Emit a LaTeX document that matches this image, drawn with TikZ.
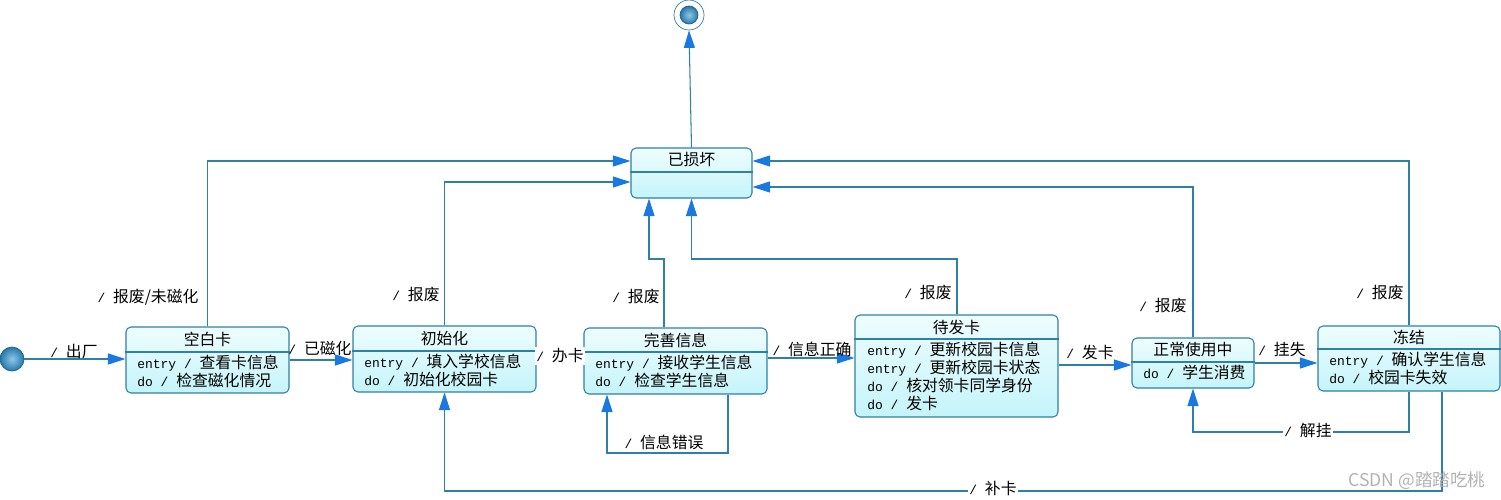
\documentclass[tikz,border=0pt]{standalone}
\usepackage{fontspec}
\setmainfont{Noto Sans CJK SC}
\newfontfamily\monof{Liberation Mono}[Scale=0.82]
\usetikzlibrary{arrows.meta,fit}
\definecolor{linecol}{RGB}{46,128,168}
\definecolor{arrowcol}{RGB}{26,120,225}
\definecolor{topcol}{RGB}{238,253,255}
\definecolor{botcol}{RGB}{196,244,250}
\definecolor{ballin}{RGB}{140,200,230}
\definecolor{ballout}{RGB}{40,120,170}
\tikzset{
 stbox/.style={draw=linecol, line width=0.6pt, rounded corners=1mm, top color=topcol, bottom color=botcol, inner sep=0pt},
 sttitle/.style={inner sep=0pt, font=\fontsize{9pt}{10.2pt}\selectfont},
 stbody/.style={inner sep=0pt, anchor=north west, align=left, font=\fontsize{9pt}{10.2pt}\selectfont},
 conn/.style={draw=linecol, line width=0.6pt, -{Triangle[length=3.5mm,width=2.2mm,color=arrowcol]}},
 lbl/.style={inner sep=1pt, font=\fontsize{9pt}{10pt}\selectfont},
 lblw/.style={lbl, fill=white},
 hdr/.style={draw=linecol, line width=0.6pt},
 ballst/.style={circle, inner sep=0pt, inner color=ballin, outer color=ballout, draw=ballout!80!black, line width=0.4pt},
}
\newcommand\myslash{{\monof / }}
\begin{document}
\begin{tikzpicture}[x=0.2mm,y=-0.2mm]
\useasboundingbox (0,0) rectangle (1501,500);

% initial and final
\node[ballst, minimum size=4.8mm] (init) at (12,359) {};
\node[circle, minimum size=6mm, inner sep=0pt, draw=linecol, line width=0.4pt] (fin) at (689,15) {};
\node[ballst, minimum size=3.6mm] (finin) at (689,15) {};

% 空白卡
\node[stbox, fit={(126,327) (289,393)}] (kbk) {};
\draw[hdr] (kbk.west |- 0,352) -- (kbk.east |- 0,352);
\node[sttitle] (kbkt) at (207.5,339.5) {空白卡};
\node[stbody] (kbkb) at (137,355) {{\monof entry / }查看卡信息\\{\monof do / }检查磁化情况};

% 初始化
\node[stbox, fit={(353,326) (536,392)}] (csh) {};
\draw[hdr] (csh.west |- 0,351) -- (csh.east |- 0,351);
\node[sttitle] (csht) at (444.5,338.5) {初始化};
\node[stbody] (cshb) at (364,354) {{\monof entry / }填入学校信息\\{\monof do / }初始化校园卡};

% 完善信息
\node[stbox, fit={(584,328) (767,394)}] (wsxx) {};
\draw[hdr] (wsxx.west |- 0,352) -- (wsxx.east |- 0,352);
\node[sttitle] (wsxxt) at (675.5,340) {完善信息};
\node[stbody] (wsxxb) at (595,355) {{\monof entry / }接收学生信息\\{\monof do / }检查学生信息};

% 待发卡
\node[stbox, fit={(855,315) (1058,417)}] (dfk) {};
\draw[hdr] (dfk.west |- 0,339) -- (dfk.east |- 0,339);
\node[sttitle] (dfkt) at (956.5,327) {待发卡};
\node[stbody] (dfkb) at (867,342) {{\monof entry / }更新校园卡信息\\{\monof entry / }更新校园卡状态\\{\monof do / }核对领卡同学身份\\{\monof do / }发卡};

% 正常使用中
\node[stbox, fit={(1132,338) (1254,388)}] (zcsy) {};
\draw[hdr] (zcsy.west |- 0,362) -- (zcsy.east |- 0,362);
\node[sttitle] (zcsyt) at (1193,350) {正常使用中};
\node[stbody] (zcsyb) at (1143,365) {{\monof do / }学生消费};

% 冻结
\node[stbox, fit={(1318,326) (1500,391)}] (dj) {};
\draw[hdr] (dj.west |- 0,349) -- (dj.east |- 0,349);
\node[sttitle] (djt) at (1409,337.5) {冻结};
\node[stbody] (djb) at (1329,352) {{\monof entry / }确认学生信息\\{\monof do / }校园卡失效};

% 已损坏
\node[stbox, fit={(631,148) (752,198)}] (ysh) {};
\draw[hdr] (ysh.west |- 0,172) -- (ysh.east |- 0,172);
\node[sttitle] (ysht) at (691.5,160) {已损坏};

% horizontal transitions
\draw[conn] (init.east) -- (init.east -| kbk.west);
\draw[conn] (kbk.east |- 0,360) -- (csh.west |- 0,360);
\draw[conn] (csh.east |- 0,357) -- (wsxx.west |- 0,357);
\draw[conn] (wsxx.east |- 0,358) -- (dfk.west |- 0,358);
\draw[conn] (dfk.east |- 0,365) -- (zcsy.west |- 0,365);
\draw[conn] (zcsy.east |- 0,363) -- (dj.west |- 0,363);

% loops
\draw[conn] (wsxx.south -| 728,0) -- (728,453) -| (wsxx.south -| 607,0);
\draw[conn] (dj.south) -- (dj.south |- 0,432) -| (zcsy.south);
\draw[conn] (dj.south -| 1442,0) -- (1442,491) -| (csh.south);

% to 已损坏
\draw[conn] (kbk.north) |- (ysh.west |- 0,161);
\draw[conn] (csh.north) |- (ysh.west |- 0,182);
\draw[conn] (wsxx.north -| 664,0) -- (664,259) -| (ysh.south -| 649,0);
\draw[conn] (dfk.north -| 957,0) -- (957,259) -| (ysh.south);
\draw[conn] (zcsy.north) |- (ysh.east |- 0,187);
\draw[conn] (dj.north) |- (ysh.east |- 0,161);
\draw[conn] (ysh.north) -- (fin.south);

% labels
\node[lbl] (l1) at (74,351) {\myslash 出厂};
\node[lbl] (l2) at (320,348) {\myslash 已磁化};
\node[lblw] (l3) at (560,356) {\myslash 办卡};
\node[lbl] (l4) at (812,349) {\myslash 信息正确};
\node[lbl] (l5) at (664,442) {\myslash 信息错误};
\node[lbl] (l6) at (1090,352) {\myslash 发卡};
\node[lbl] (l7) at (1282,349) {\myslash 挂失};
\node[lblw] (l8) at (1308,431) {\myslash 解挂};
\node[lblw] (l9) at (993,488) {\myslash 补卡};
\node[lbl] (l10) at (148,297) {\myslash 报废/未磁化};
\node[lbl] (l11) at (416,295) {\myslash 报废};
\node[lbl] (l12) at (636,297) {\myslash 报废};
\node[lbl] (l13) at (928,293) {\myslash 报废};
\node[lbl] (l14) at (1163,306) {\myslash 报废};
\node[lbl] (l15) at (1380,293) {\myslash 报废};

% watermark
\node[inner sep=0pt, text=black!30, font=\fontsize{10pt}{11pt}\selectfont] (wm) at (1417,481) {CSDN @踏踏吃桃};
\end{tikzpicture}
\end{document}
